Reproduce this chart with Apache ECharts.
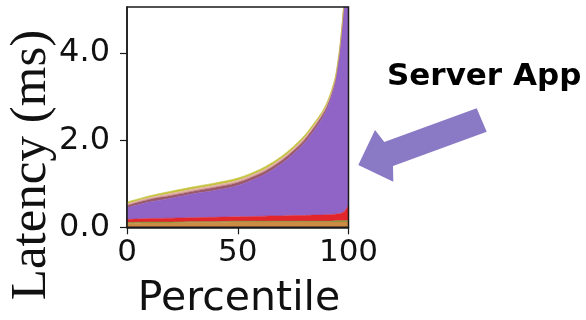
<!DOCTYPE html>
<html>
<head>
<meta charset="utf-8">
<script src="https://cdn.jsdelivr.net/npm/echarts@6/dist/echarts.min.js"></script>
<style>html,body{margin:0;padding:0;background:#fff;}#c{width:586px;height:320px;}</style>
</head>
<body>
<div id="c"></div>
<script>
// Percentile positions (x)
var percentiles = [0, 10, 20, 30, 40, 50, 60, 65, 70, 75, 80, 85, 88, 90, 92, 94, 95, 96, 97, 98, 99, 100];
// Stacked layer increments (ms), bottom to top
var layerOrange = [0.09,0.10,0.10,0.11,0.11,0.12,0.12,0.12,0.12,0.12,0.12,0.12,0.12,0.12,0.12,0.12,0.12,0.12,0.12,0.12,0.12,0.12];
var layerGreen  = [0.02,0.02,0.02,0.02,0.02,0.02,0.02,0.02,0.02,0.02,0.02,0.02,0.02,0.02,0.02,0.03,0.03,0.03,0.03,0.03,0.03,0.04];
var layerRed    = [0.07,0.08,0.09,0.09,0.10,0.10,0.11,0.12,0.12,0.13,0.13,0.14,0.14,0.15,0.15,0.15,0.16,0.16,0.18,0.21,0.27,0.34];
var layerPurple = [0.27,0.38,0.46,0.55,0.62,0.72,0.91,1.04,1.21,1.41,1.66,1.98,2.21,2.39,2.66,3.00,3.30,3.67,4.15,4.70,5.04,5.36];
var layerBrown  = [0.05,0.06,0.06,0.06,0.07,0.07,0.07,0.07,0.07,0.07,0.07,0.07,0.07,0.07,0.06,0.06,0.06,0.06,0.06,0.06,0.06,0.06];
var layerPink   = [0.04,0.04,0.05,0.05,0.05,0.05,0.05,0.05,0.05,0.05,0.05,0.05,0.04,0.04,0.04,0.04,0.04,0.04,0.04,0.04,0.04,0.04];
var layerYellow = [0.04,0.04,0.05,0.05,0.05,0.05,0.05,0.05,0.05,0.05,0.05,0.05,0.05,0.05,0.05,0.05,0.04,0.04,0.04,0.04,0.04,0.04];
var xTicks = [0, 50, 100];
var yTicks = [0, 2, 4];

var layers = [
  {name:'a', data: layerOrange, color:'#cc8c45'},
  {name:'b', data: layerGreen,  color:'#7f9c3c'},
  {name:'c', data: layerRed,    color:'#e2262b'},
  {name:'d', data: layerPurple, color:'#9063c6'},
  {name:'e', data: layerBrown,  color:'#9a5868'},
  {name:'f', data: layerPink,   color:'#e2b0a6'},
  {name:'g', data: layerYellow, color:'#c4c43c'}
];

// data rows are [value, percentile] so the stack runs along the y (value) dimension
var series = layers.map(function(l){
  return {
    name: l.name, type:'line', stack:'total', smooth:0.3,
    symbol:'none', clip:true,
    encode:{x:1, y:0},
    lineStyle:{width:0.6, color:l.color},
    itemStyle:{color:l.color},
    areaStyle:{color:l.color, opacity:1},
    data: percentiles.map(function(p,i){ return [l.data[i], p]; })
  };
});

var chart = echarts.init(document.getElementById('c'), null, {renderer:'canvas'});
chart.setOption({
  animation:false,
  backgroundColor:'#fff',
  grid:{left:127, right:237.5, top:7, bottom:92.7, show:true, borderColor:'#1a1a1a', borderWidth:1.5, backgroundColor:'transparent', z:10},
  xAxis:{
    type:'value', min:0, max:100, interval:50,
    axisLine:{show:true, lineStyle:{color:'#1a1a1a', width:1.5}},
    axisTick:{show:true, inside:false, length:7, lineStyle:{color:'#1a1a1a', width:1.2}, customValues:xTicks},
    axisLabel:{show:true, margin:10, fontFamily:'DejaVu Sans', fontSize:31, color:'#111', customValues:xTicks},
    splitLine:{show:false}
  },
  yAxis:{
    type:'value', min:0, max:5.06, interval:2,
    axisLine:{show:true, lineStyle:{color:'#1a1a1a', width:1.5}},
    axisTick:{show:true, inside:false, length:7, lineStyle:{color:'#1a1a1a', width:1.2}, customValues:yTicks},
    axisLabel:{show:true, margin:17, fontFamily:'DejaVu Sans', fontSize:32, color:'#111', customValues:yTicks,
      formatter:function(v){ return v.toFixed(1); }},
    splitLine:{show:false}
  },
  series: series,
  graphic:[
    {type:'text', x:239, y:299, style:{text:'Percentile', font:'41px "DejaVu Sans"', fill:'#111', align:'center', verticalAlign:'middle'}},
    {type:'text', x:32, y:165, rotation:Math.PI/2, style:{text:'Latency (ms)', font:'51px "Liberation Serif"', fill:'#111', align:'center', verticalAlign:'middle'}},
    {type:'text', x:387, y:77, style:{text:'Server App', font:'bold 31px "DejaVu Sans"', fill:'#000', align:'left', verticalAlign:'middle'}},
    {type:'polygon', shape:{points:[
      [476.7,108.3],[486.7,131.7],[393.0,165.9],[393.3,181.7],[358.3,165.0],[375.0,130.0],[384.3,142.0]
    ]}, style:{fill:'#8a79c4'}}
  ]
});
</script>
</body>
</html>
